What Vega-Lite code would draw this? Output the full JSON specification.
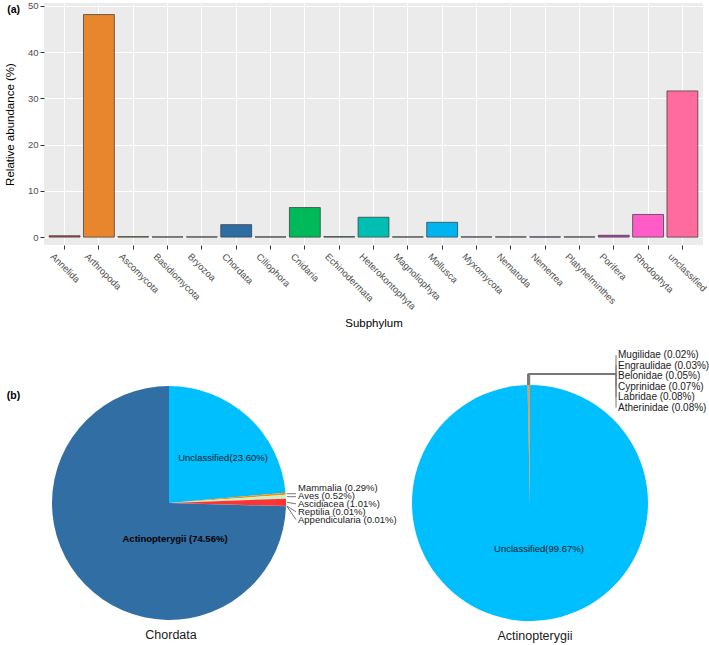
{
  "$schema": "https://vega.github.io/schema/vega-lite/v6.json",
  "background": "white",
  "padding": {"left": 4, "top": 0, "right": 0, "bottom": 0},
  "bounds": "flush",
  "spacing": 118,
  "resolve": {"scale": {"color": "independent", "x": "independent", "y": "independent"}},
  "config": {
    "font": "Liberation Sans",
    "view": {"stroke": null},
    "axis": {"titleFontWeight": "normal", "titleColor": "#000000", "labelColor": "#4D4D4D", "tickColor": "#333333", "domain": false}
  },
  "vconcat": [
    {
      "width": 659,
      "height": 242,
      "view": {"fill": "#EBEBEB", "stroke": null},
      "data": {"values": [
        {"Subphylum": "Annelida", "abundance": 0.3},
        {"Subphylum": "Arthropoda", "abundance": 48.1},
        {"Subphylum": "Ascomycota", "abundance": 0.1},
        {"Subphylum": "Basidiomycota", "abundance": 0.06},
        {"Subphylum": "Bryozoa", "abundance": 0.06},
        {"Subphylum": "Chordata", "abundance": 2.7},
        {"Subphylum": "Ciliophora", "abundance": 0.06},
        {"Subphylum": "Cnidaria", "abundance": 6.4},
        {"Subphylum": "Echinodermata", "abundance": 0.1},
        {"Subphylum": "Heterokontophyta", "abundance": 4.3},
        {"Subphylum": "Magnoliophyta", "abundance": 0.06},
        {"Subphylum": "Mollusca", "abundance": 3.2},
        {"Subphylum": "Myxomycota", "abundance": 0.06},
        {"Subphylum": "Nematoda", "abundance": 0.06},
        {"Subphylum": "Nemertea", "abundance": 0.06},
        {"Subphylum": "Platyhelminthes", "abundance": 0.06},
        {"Subphylum": "Porifera", "abundance": 0.4},
        {"Subphylum": "Rhodophyta", "abundance": 4.9},
        {"Subphylum": "unclassified", "abundance": 31.6}
      ]},
      "layer": [
        {
          "mark": {"type": "bar", "stroke": "#333333", "strokeWidth": 0.7},
          "encoding": {
            "x": {"field": "Subphylum", "type": "nominal", "sort": null,
              "scale": {"paddingInner": 0.1, "paddingOuter": 0.15},
              "axis": {"title": "Subphylum", "labelAngle": 45, "labelAlign": "left", "labelBaseline": "top", "labelOffset": -9, "grid": true, "gridColor": "#FFFFFF", "gridWidth": 1.1, "bandPosition": 0.5, "tickSize": 4, "labelFontSize": 9.5, "labelColor": "#4D4D4D", "labelPadding": 2, "titlePadding": 7, "titleFontSize": 11.5}},
            "y": {"field": "abundance", "type": "quantitative",
              "scale": {"domain": [-1.7, 50.6], "nice": false, "zero": false},
              "axis": {"title": "Relative abundance (%)", "values": [0, 5, 10, 15, 20, 25, 30, 35, 40, 45, 50],
                "labelExpr": "datum.value % 10 === 0 ? datum.label : ''",
                "tickOpacity": {"condition": {"test": "datum.value % 10 !== 0", "value": 0}, "value": 1},
                "gridWidth": {"condition": {"test": "datum.value % 10 !== 0", "value": 0.55}, "value": 1.1},
                "grid": true, "gridColor": "#FFFFFF", "tickSize": 4, "labelFontSize": 9.5, "labelColor": "#4D4D4D", "labelPadding": 2, "titlePadding": 12, "titleFontSize": 11.5}},
            "color": {"field": "Subphylum", "type": "nominal", "legend": null,
              "scale": {
                "domain": ["Annelida", "Arthropoda", "Ascomycota", "Basidiomycota", "Bryozoa", "Chordata", "Ciliophora", "Cnidaria", "Echinodermata", "Heterokontophyta", "Magnoliophyta", "Mollusca", "Myxomycota", "Nematoda", "Nemertea", "Platyhelminthes", "Porifera", "Rhodophyta", "unclassified"],
                "range": ["#B94A48", "#E8862D", "#7F6000", "#6B6B23", "#556B2F", "#2E6DA4", "#2F4F4F", "#00BA5A", "#006D5B", "#00BFB2", "#2E8B57", "#00B4EF", "#4169E1", "#5A5ACD", "#7B68EE", "#9932CC", "#C040C0", "#FF5CC8", "#FF6B9E"]}}
          }
        },
        {
          "transform": [{"filter": "datum.Subphylum === 'Annelida'"}],
          "mark": {"type": "text", "fontWeight": "bold", "fontSize": 10.5, "dx": -51, "align": "center", "baseline": "middle", "color": "#000000"},
          "encoding": {
            "x": {"field": "Subphylum", "type": "nominal", "sort": null},
            "y": {"datum": 49, "type": "quantitative"},
            "text": {"value": "(a)"}
          }
        }
      ]
    },
    {
      "bounds": "flush",
      "spacing": 63,
      "resolve": {"scale": {"color": "independent", "x": "independent", "y": "independent"}},
      "hconcat": [
        {
          "width": 250,
          "height": 280,
          "data": {"values": [
            {"group": "Unclassified", "pct": 23.60},
            {"group": "Mammalia", "pct": 0.29},
            {"group": "Aves", "pct": 0.52},
            {"group": "Ascidiacea", "pct": 1.01},
            {"group": "Reptilia", "pct": 0.01},
            {"group": "Appendicularia", "pct": 0.01},
            {"group": "Actinopterygii", "pct": 74.56}
          ]},
          "transform": [
            {"window": [{"op": "row_number", "as": "idx"}, {"op": "sum", "field": "pct", "as": "cum"}], "frame": [null, 0]},
            {"calculate": "2*PI*(datum.cum - datum.pct/2)/100", "as": "mid"},
            {"calculate": "sin(datum.mid)", "as": "sx"},
            {"calculate": "cos(datum.mid)", "as": "sy"}
          ],
          "layer": [
            {
              "mark": {"type": "arc", "outerRadius": 117},
              "encoding": {
                "theta": {"field": "pct", "type": "quantitative", "stack": true},
                "order": {"field": "idx", "type": "quantitative"},
                "color": {"field": "group", "type": "nominal", "legend": null,
                  "scale": {"domain": ["Unclassified", "Mammalia", "Aves", "Ascidiacea", "Reptilia", "Appendicularia", "Actinopterygii"],
                    "range": ["#00BFFF", "#FF8C00", "#C7F2C2", "#FF3333", "#9467BD", "#8C564B", "#306EA4"]}}
              }
            },
            {
              "transform": [
                {"filter": "datum.idx === 1"},
                {"calculate": "datum.group + '(' + format(datum.pct, '.2f') + '%)'", "as": "label"}
              ],
              "mark": {"type": "text", "fontSize": 9.5, "align": "center", "baseline": "middle", "color": "#1A1A1A"},
              "encoding": {
                "x": {"datum": 0.458, "type": "quantitative", "scale": {"domain": [-1.0593, 1.0593], "nice": false, "zero": false}, "axis": null},
                "y": {"datum": 0.381, "type": "quantitative", "scale": {"domain": [-1.1864, 1.1864], "nice": false, "zero": false}, "axis": null},
                "text": {"field": "label"}
              }
            },
            {
              "transform": [
                {"filter": "datum.idx === 7"},
                {"calculate": "datum.group + ' (' + format(datum.pct, '.2f') + '%)'", "as": "label"}
              ],
              "mark": {"type": "text", "fontSize": 9.5, "fontWeight": "bold", "align": "center", "baseline": "middle", "color": "#000000"},
              "encoding": {
                "x": {"datum": 0.051, "type": "quantitative", "scale": {"domain": [-1.0593, 1.0593], "nice": false, "zero": false}, "axis": null},
                "y": {"datum": -0.305, "type": "quantitative", "scale": {"domain": [-1.1864, 1.1864], "nice": false, "zero": false}, "axis": null},
                "text": {"field": "label"}
              }
            },
            {
              "transform": [
                {"filter": "datum.idx >= 2 && datum.idx <= 6"},
                {"calculate": "datum.group + ' (' + format(datum.pct, '.2f') + '%)'", "as": "label"},
                {"calculate": "0.127 - (datum.idx - 2) * 0.067", "as": "ly"},
                {"calculate": "min(datum.sy, datum.ly)", "as": "ey"},
                {"calculate": "1.076", "as": "ex"},
                {"calculate": "1.093", "as": "lx"}
              ],
              "layer": [
                {
                  "mark": {"type": "rule", "color": "#555555", "strokeWidth": 0.8},
                  "encoding": {
                    "x": {"field": "sx", "type": "quantitative", "scale": {"domain": [-1.0593, 1.0593], "nice": false, "zero": false}, "axis": null},
                    "y": {"field": "sy", "type": "quantitative", "scale": {"domain": [-1.1864, 1.1864], "nice": false, "zero": false}, "axis": null},
                    "x2": {"field": "ex"},
                    "y2": {"field": "ey"}
                  }
                },
                {
                  "mark": {"type": "text", "fontSize": 9.5, "align": "left", "baseline": "middle", "color": "#1A1A1A"},
                  "encoding": {
                    "x": {"field": "lx", "type": "quantitative", "scale": {"domain": [-1.0593, 1.0593], "nice": false, "zero": false}, "axis": null},
                    "y": {"field": "ly", "type": "quantitative", "scale": {"domain": [-1.1864, 1.1864], "nice": false, "zero": false}, "axis": null},
                    "text": {"field": "label"}
                  }
                }
              ]
            },
            {
              "data": {"values": [{"caption": "Chordata"}]},
              "mark": {"type": "text", "fontSize": 12.5, "align": "center", "baseline": "middle", "color": "#1A1A1A"},
              "encoding": {
                "x": {"datum": 0.017, "type": "quantitative", "scale": {"domain": [-1.0593, 1.0593], "nice": false, "zero": false}, "axis": null},
                "y": {"datum": -1.119, "type": "quantitative", "scale": {"domain": [-1.1864, 1.1864], "nice": false, "zero": false}, "axis": null},
                "text": {"field": "caption"}
              }
            },
            {
              "data": {"values": [{"tag": "(b)"}]},
              "mark": {"type": "text", "fontSize": 10.5, "fontWeight": "bold", "align": "center", "baseline": "middle", "color": "#000000"},
              "encoding": {
                "x": {"datum": -1.318, "type": "quantitative", "scale": {"domain": [-1.0593, 1.0593], "nice": false, "zero": false}, "axis": null},
                "y": {"datum": 0.906, "type": "quantitative", "scale": {"domain": [-1.1864, 1.1864], "nice": false, "zero": false}, "axis": null},
                "text": {"field": "tag"}
              }
            }
          ]
        },
        {
          "width": 346,
          "height": 280,
          "data": {"values": [
            {"group": "Unclassified", "pct": 99.67},
            {"group": "Mugilidae", "pct": 0.02},
            {"group": "Engraulidae", "pct": 0.03},
            {"group": "Belonidae", "pct": 0.05},
            {"group": "Cyprinidae", "pct": 0.07},
            {"group": "Labridae", "pct": 0.08},
            {"group": "Atherinidae", "pct": 0.08}
          ]},
          "transform": [
            {"window": [{"op": "row_number", "as": "idx"}, {"op": "sum", "field": "pct", "as": "cum"}], "frame": [null, 0]},
            {"calculate": "2*PI*(datum.cum - datum.pct/2)/100", "as": "mid"},
            {"calculate": "sin(datum.mid)", "as": "sx"},
            {"calculate": "cos(datum.mid)", "as": "sy"}
          ],
          "layer": [
            {
              "mark": {"type": "arc", "outerRadius": 118},
              "encoding": {
                "theta": {"field": "pct", "type": "quantitative", "stack": true},
                "order": {"field": "idx", "type": "quantitative"},
                "color": {"field": "group", "type": "nominal", "legend": null,
                  "scale": {"domain": ["Unclassified", "Mugilidae", "Engraulidae", "Belonidae", "Cyprinidae", "Labridae", "Atherinidae"],
                    "range": ["#00BFFF", "#E8862D", "#D2691E", "#C8782A", "#B8860B", "#CD853F", "#D2791E"]}}
              }
            },
            {
              "transform": [
                {"filter": "datum.idx === 1"},
                {"calculate": "datum.group + '(' + format(datum.pct, '.2f') + '%)'", "as": "label"}
              ],
              "mark": {"type": "text", "fontSize": 9.5, "align": "center", "baseline": "middle", "color": "#1A1A1A"},
              "encoding": {
                "x": {"datum": 0.076, "type": "quantitative", "scale": {"domain": [-1.4661, 1.4661], "nice": false, "zero": false}, "axis": null},
                "y": {"datum": -0.39, "type": "quantitative", "scale": {"domain": [-1.1864, 1.1864], "nice": false, "zero": false}, "axis": null},
                "text": {"field": "label"}
              }
            },
            {
              "transform": [
                {"filter": "datum.idx >= 2"},
                {"calculate": "datum.group + ' (' + format(datum.pct, '.2f') + '%)'", "as": "label"},
                {"calculate": "1.254 - (datum.idx - 2) * 0.089", "as": "ly"},
                {"calculate": "1.093", "as": "hy"},
                {"calculate": "0.729", "as": "bx"},
                {"calculate": "0.746", "as": "lx"}
              ],
              "layer": [
                {
                  "mark": {"type": "rule", "color": "#777777", "strokeWidth": 1},
                  "encoding": {
                    "x": {"field": "sx", "type": "quantitative", "scale": {"domain": [-1.4661, 1.4661], "nice": false, "zero": false}, "axis": null},
                    "y": {"field": "sy", "type": "quantitative", "scale": {"domain": [-1.1864, 1.1864], "nice": false, "zero": false}, "axis": null},
                    "x2": {"field": "sx"},
                    "y2": {"field": "hy"}
                  }
                },
                {
                  "mark": {"type": "rule", "color": "#777777", "strokeWidth": 1},
                  "encoding": {
                    "x": {"field": "sx", "type": "quantitative", "scale": {"domain": [-1.4661, 1.4661], "nice": false, "zero": false}, "axis": null},
                    "y": {"field": "hy", "type": "quantitative", "scale": {"domain": [-1.1864, 1.1864], "nice": false, "zero": false}, "axis": null},
                    "x2": {"field": "bx"},
                    "y2": {"field": "hy"}
                  }
                },
                {
                  "mark": {"type": "rule", "color": "#777777", "strokeWidth": 1},
                  "encoding": {
                    "x": {"field": "bx", "type": "quantitative", "scale": {"domain": [-1.4661, 1.4661], "nice": false, "zero": false}, "axis": null},
                    "y": {"field": "hy", "type": "quantitative", "scale": {"domain": [-1.1864, 1.1864], "nice": false, "zero": false}, "axis": null},
                    "x2": {"field": "bx"},
                    "y2": {"field": "ly"}
                  }
                },
                {
                  "mark": {"type": "text", "fontSize": 10, "align": "left", "baseline": "middle", "color": "#1A1A1A"},
                  "encoding": {
                    "x": {"field": "lx", "type": "quantitative", "scale": {"domain": [-1.4661, 1.4661], "nice": false, "zero": false}, "axis": null},
                    "y": {"field": "ly", "type": "quantitative", "scale": {"domain": [-1.1864, 1.1864], "nice": false, "zero": false}, "axis": null},
                    "text": {"field": "label"}
                  }
                }
              ]
            },
            {
              "data": {"values": [{"caption": "Actinopterygii"}]},
              "mark": {"type": "text", "fontSize": 12.5, "align": "center", "baseline": "middle", "color": "#1A1A1A"},
              "encoding": {
                "x": {"datum": 0.042, "type": "quantitative", "scale": {"domain": [-1.4661, 1.4661], "nice": false, "zero": false}, "axis": null},
                "y": {"datum": -1.127, "type": "quantitative", "scale": {"domain": [-1.1864, 1.1864], "nice": false, "zero": false}, "axis": null},
                "text": {"field": "caption"}
              }
            }
          ]
        }
      ]
    }
  ]
}
